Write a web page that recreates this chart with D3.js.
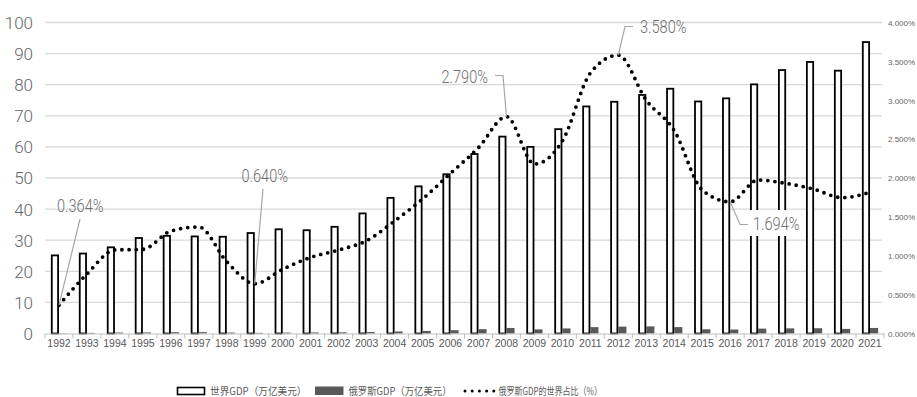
<!DOCTYPE html>
<html><head><meta charset="utf-8">
<script src="https://cdn.jsdelivr.net/npm/d3@7"></script>
<style>
html,body{margin:0;padding:0;background:#fff;}
svg{display:block;}
</style></head>
<body>
<svg id="chart" width="917" height="397"></svg>
<script>
const years = ["1992","1993","1994","1995","1996","1997","1998","1999","2000","2001","2002","2003","2004","2005","2006","2007","2008","2009","2010","2011","2012","2013","2014","2015","2016","2017","2018","2019","2020","2021"];
const worldGDP = [25.4,26.0,28.0,31.0,31.7,31.5,31.4,32.6,33.8,33.5,34.6,38.9,43.9,47.6,51.5,58.0,63.6,60.3,66.0,73.3,74.8,77.0,79.0,74.9,75.9,80.4,85.0,87.6,84.8,94.0];
const russiaGDP = [0.09,0.20,0.30,0.33,0.42,0.43,0.29,0.21,0.28,0.33,0.37,0.46,0.64,0.82,1.06,1.39,1.78,1.31,1.63,2.05,2.21,2.29,2.06,1.36,1.28,1.57,1.65,1.69,1.48,1.78];
const russiaShare = [0.364,0.765,1.074,1.083,1.318,1.370,0.924,0.640,0.826,0.980,1.074,1.194,1.447,1.730,2.060,2.390,2.790,2.180,2.476,3.350,3.580,3.000,2.610,1.846,1.694,1.974,1.930,1.855,1.747,1.816];
const leftTicks = [0,10,20,30,40,50,60,70,80,90,100];
const rightTicks = [0,0.5,1,1.5,2,2.5,3,3.5,4];
const callouts = [
  {year:"1992", text:"0.364%"},
  {year:"1999", text:"0.640%"},
  {year:"2008", text:"2.790%"},
  {year:"2012", text:"3.580%"},
  {year:"2016", text:"1.694%"}
];
const legendLabels = ["世界GDP（万亿美元）","俄罗斯GDP（万亿美元）","俄罗斯GDP的世界占比（%）"];

const svg = d3.select("#chart");
const gray = "#595959";
const plotLeft = 45, plotRight = 884, plotTop = 22.5, plotBottom = 333.5;

const x = d3.scaleBand().domain(years).range([plotLeft, plotRight]).paddingInner(0).paddingOuter(0);
const bw = x.bandwidth();
const xs = d3.scaleBand().domain(["w","r"]).range([bw*0.21, bw*0.79]).padding(0);
const y = d3.scaleLinear().domain([0,100]).range([plotBottom, plotTop]);
const y2 = d3.scaleLinear().domain([0,4]).range([plotBottom, plotTop]);

// gridlines
svg.append("g").selectAll("line").data(leftTicks.filter(d=>d>0)).join("line")
  .attr("x1", plotLeft).attr("x2", plotRight-2)
  .attr("y1", d=>y(d)).attr("y2", d=>y(d))
  .attr("stroke", "#d9d9d9").attr("stroke-width", 1.3);

// left axis labels
const yAxis = d3.axisLeft(y).tickValues(leftTicks).tickSize(0).tickPadding(0);
const gy = svg.append("g").attr("transform", `translate(${33},0)`).call(yAxis);
gy.select(".domain").remove();
gy.selectAll("text").attr("fill", "#666").attr("font-family","Roboto, Liberation Sans, sans-serif").attr("font-weight",300).attr("font-size", 17).attr("dy","0.35em");

// right axis labels
const yAxisR = d3.axisRight(y2).tickValues(rightTicks).tickSize(0).tickPadding(0).tickFormat(d=>d3.format(".3f")(d)+"%");
const gyr = svg.append("g").attr("transform", `translate(${888},0)`).call(yAxisR);
gyr.select(".domain").remove();
gyr.selectAll("text").attr("fill", "#666").attr("font-family","Liberation Sans, Arial, sans-serif").attr("font-size", 8).attr("dy","0.35em");

// bars
const groups = svg.append("g").selectAll("g").data(years).join("g")
  .attr("transform", d=>`translate(${x(d)},0)`);
groups.append("rect")
  .attr("x", xs("w")+0.9).attr("width", xs.bandwidth()-1.8)
  .attr("y", (d,i)=>y(worldGDP[i])+0.9)
  .attr("height", (d,i)=>plotBottom - y(worldGDP[i]) - 0.9)
  .attr("fill", "#fff").attr("stroke", "#000").attr("stroke-width", 1.8);
groups.append("rect")
  .attr("x", xs("r")).attr("width", xs.bandwidth())
  .attr("y", (d,i)=>y(russiaGDP[i]))
  .attr("height", (d,i)=>plotBottom - y(russiaGDP[i]))
  .attr("fill", gray);

// x axis
const xAxis = d3.axisBottom(x).tickSize(0).tickPadding(0);
const gx = svg.append("g").attr("transform", `translate(0,${plotBottom})`).call(xAxis);
gx.select(".domain").attr("stroke", "#bfbfbf").attr("stroke-width", 1.2);
gx.selectAll("text").attr("fill", gray).attr("font-family","Liberation Sans, Arial, sans-serif").attr("font-size", 10.5).attr("dy","1.3em");
svg.append("g").selectAll("line").data(d3.range(years.length+1)).join("line")
  .attr("x1", i=>plotLeft + i*bw).attr("x2", i=>plotLeft + i*bw)
  .attr("y1", plotBottom).attr("y2", plotBottom+5)
  .attr("stroke", "#bfbfbf").attr("stroke-width", 1);

// share line
const cx = d => x(d) + bw/2;
const lineGen = d3.line().x((d,i)=>cx(years[i])).y(d=>y2(d)).curve(d3.curveMonotoneX);
svg.append("path").datum(russiaShare).attr("d", lineGen)
  .attr("fill","none").attr("stroke","#000").attr("stroke-width",3.8)
  .attr("stroke-linecap","round").attr("stroke-dasharray","0,7.2");

// callouts
const calloutGeom = {
  "1992": {tx:57, ty:212, path:(px,py)=>[[80,219],[px,py]]},
  "1999": {tx:241.5, ty:181.5, path:(px,py)=>[[263,189],[px,py]]},
  "2008": {tx:441.5, ty:82.5, path:(px,py)=>[[495,75.5],[503,75.5],[px,py]]},
  "2012": {tx:640, ty:32.5, path:(px,py)=>[[633,26.5],[625,26.5],[px,py]]},
  "2016": {tx:753, ty:230, path:(px,py)=>[[px,py],[740,224.5],[748,224.5]], bg:true}
};
const cg = svg.append("g");
callouts.forEach(c=>{
  const i = years.indexOf(c.year);
  const px = cx(c.year), py = y2(russiaShare[i]);
  const g = calloutGeom[c.year];
  if (g.bg) cg.append("rect").attr("x", g.tx-6).attr("y", g.ty-20).attr("width", 58).attr("height", 26).attr("fill","#fff");
  cg.append("path").attr("d", d3.line()(g.path(px,py))).attr("fill","none").attr("stroke","#a6a6a6").attr("stroke-width",1.2);
  cg.append("text").attr("x", g.tx).attr("y", g.ty).text(c.text)
    .attr("fill", "#6f6f6f").attr("font-family","Roboto, Liberation Sans, sans-serif").attr("font-weight",300)
    .attr("font-size", 19).attr("textLength", 46.5).attr("lengthAdjust","spacingAndGlyphs");
});

// legend
const lg = svg.append("g").attr("font-family","Noto Sans CJK SC, sans-serif").attr("font-size",10.3).attr("fill",gray);
lg.append("rect").attr("x",177.5).attr("y",387.5).attr("width",27).attr("height",7).attr("fill","#fff").attr("stroke","#000").attr("stroke-width",1.6);
lg.append("text").attr("x",210).attr("y",395).text(legendLabels[0]).attr("textLength",96.5).attr("lengthAdjust","spacingAndGlyphs");
lg.append("rect").attr("x",315).attr("y",386.5).attr("width",28.5).attr("height",8.5).attr("fill",gray);
lg.append("text").attr("x",348.5).attr("y",395).text(legendLabels[1]).attr("textLength",103).attr("lengthAdjust","spacingAndGlyphs");
lg.append("line").attr("x1",465).attr("x2",494).attr("y1",391).attr("y2",391)
  .attr("stroke","#000").attr("stroke-width",3).attr("stroke-linecap","round").attr("stroke-dasharray","0,7.2");
lg.append("text").attr("x",498.5).attr("y",395).text(legendLabels[2]).attr("textLength",103.5).attr("lengthAdjust","spacingAndGlyphs");
</script>
</body></html>
